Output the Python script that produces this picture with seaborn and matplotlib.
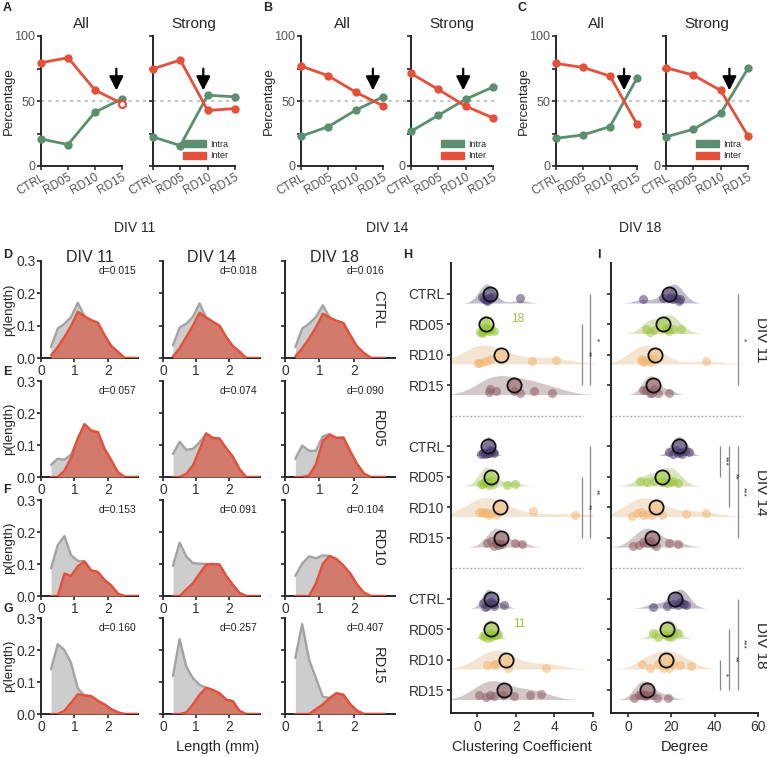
import numpy as np
import pandas as pd
import seaborn as sns
from matplotlib import pyplot as plt
from matplotlib.colors import to_rgba
from matplotlib.patches import Patch

sns.set_theme(style="ticks")
plt.rcParams["font.family"] = ["Liberation Sans", "DejaVu Sans"]
plt.rcParams["axes.linewidth"] = 1.4

W, H = 767, 757
GREEN = "#5b8f70"
RED = "#e4503a"
TICKC = "#555555"

# ---------------- data: top panels (percentage intra / inter) ----------------
conds = ["CTRL", "RD05", "RD10", "RD15"]

A_all_intra = [20.8, 16.5, 41.4, 51.7]
A_all_inter = [79.4, 83.3, 58.4, 48.0]
A_str_intra = [22.4, 15.7, 54.5, 53.2]
A_str_inter = [74.8, 81.5, 42.7, 44.2]
B_all_intra = [22.9, 30.3, 42.9, 53.2]
B_all_inter = [76.9, 69.4, 56.8, 46.3]
B_str_intra = [26.7, 39.0, 51.4, 60.7]
B_str_inter = [71.2, 58.9, 46.0, 37.0]
C_all_intra = [21.3, 23.9, 30.3, 67.6]
C_all_inter = [78.9, 75.8, 69.2, 32.1]
C_str_intra = [22.4, 28.3, 40.4, 75.1]
C_str_inter = [75.6, 69.9, 58.1, 23.1]

# ---------------- data: length distributions ----------------
bins = [0.3, 0.5, 0.7, 0.9, 1.1, 1.3, 1.5, 1.7, 1.9, 2.1, 2.3, 2.5, 2.7, 2.9]

ctrl_red_11 = [0.008, 0.034, 0.065, 0.100, 0.143, 0.129, 0.117, 0.109, 0.070, 0.037, 0.019, 0, 0, 0]
ctrl_gry_11 = [0.034, 0.091, 0.106, 0.127, 0.171, 0.129, 0.117, 0.109, 0.070, 0.037, 0.019, 0, 0, 0]
ctrl_red_14 = [0.005, 0.030, 0.065, 0.100, 0.140, 0.125, 0.112, 0.100, 0.065, 0.037, 0.020, 0, 0, 0]
ctrl_gry_14 = [0.039, 0.094, 0.106, 0.127, 0.169, 0.125, 0.112, 0.100, 0.065, 0.037, 0.020, 0, 0, 0]
ctrl_red_18 = [0.005, 0.030, 0.060, 0.095, 0.137, 0.125, 0.115, 0.108, 0.070, 0.035, 0.015, 0, 0, 0]
ctrl_gry_18 = [0.034, 0.091, 0.106, 0.127, 0.163, 0.125, 0.115, 0.108, 0.070, 0.035, 0.015, 0, 0, 0]

rd05_red_11 = [0, 0, 0.020, 0.060, 0.120, 0.165, 0.145, 0.140, 0.088, 0.052, 0.015, 0, 0, 0]
rd05_gry_11 = [0.038, 0.057, 0.054, 0.070, 0.120, 0.165, 0.145, 0.140, 0.088, 0.052, 0.015, 0, 0, 0]
rd05_red_14 = [0, 0, 0.010, 0.036, 0.086, 0.136, 0.122, 0.120, 0.090, 0.064, 0.025, 0, 0, 0]
rd05_gry_14 = [0.072, 0.110, 0.085, 0.088, 0.108, 0.136, 0.122, 0.120, 0.090, 0.064, 0.025, 0, 0, 0]
rd05_red_18 = [0, 0, 0.005, 0.040, 0.113, 0.132, 0.122, 0.123, 0.080, 0.040, 0.010, 0, 0, 0]
rd05_gry_18 = [0.057, 0.098, 0.082, 0.082, 0.127, 0.134, 0.122, 0.123, 0.080, 0.040, 0.010, 0, 0, 0]

rd10_red_11 = [0, 0, 0.070, 0.063, 0.093, 0.108, 0.080, 0.075, 0.050, 0.033, 0.007, 0, 0, 0]
rd10_gry_11 = [0.086, 0.159, 0.187, 0.127, 0.110, 0.108, 0.080, 0.075, 0.050, 0.033, 0.007, 0, 0, 0]
rd10_red_14 = [0, 0, 0.020, 0.040, 0.070, 0.098, 0.100, 0.098, 0.063, 0.035, 0.010, 0, 0, 0]
rd10_gry_14 = [0.094, 0.167, 0.124, 0.103, 0.101, 0.100, 0.100, 0.098, 0.063, 0.035, 0.010, 0, 0, 0]
rd10_red_18 = [0, 0, 0, 0.040, 0.101, 0.125, 0.115, 0.095, 0.070, 0.035, 0.010, 0, 0, 0]
rd10_gry_18 = [0.063, 0.101, 0.124, 0.118, 0.127, 0.125, 0.115, 0.095, 0.070, 0.035, 0.010, 0, 0, 0]

rd15_red_11 = [0, 0, 0.010, 0.035, 0.062, 0.058, 0.056, 0.041, 0.030, 0.015, 0.005, 0, 0, 0]
rd15_gry_11 = [0.140, 0.218, 0.200, 0.159, 0.080, 0.058, 0.056, 0.041, 0.030, 0.015, 0.005, 0, 0, 0]
rd15_red_14 = [0, 0, 0.005, 0.030, 0.060, 0.082, 0.075, 0.065, 0.045, 0.040, 0.010, 0, 0, 0]
rd15_gry_14 = [0.119, 0.234, 0.148, 0.112, 0.091, 0.082, 0.075, 0.065, 0.045, 0.040, 0.010, 0, 0, 0]
rd15_red_18 = [0, 0, 0, 0.015, 0.030, 0.050, 0.065, 0.060, 0.030, 0.010, 0, 0, 0, 0]
rd15_gry_18 = [0.175, 0.281, 0.170, 0.112, 0.054, 0.050, 0.065, 0.060, 0.030, 0.010, 0, 0, 0, 0]

d_ctrl = [0.015, 0.018, 0.016]
d_rd05 = [0.057, 0.074, 0.090]
d_rd10 = [0.153, 0.091, 0.104]
d_rd15 = [0.160, 0.257, 0.407]

# ---------------- data: clustering coefficient & degree ----------------
divs = ["DIV 11", "DIV 14", "DIV 18"]

cc_11_ctrl = [0.25, 0.35, 0.45, 0.5, 0.6, 0.65, 0.75, 0.5, 2.2]
cc_11_rd05 = [0.15, 0.25, 0.3, 0.35, 0.4, 0.45, 0.5, 0.55, 0.6, 0.7, 0.85, 0.4]
cc_11_rd10 = [0.05, 0.1, 0.3, 0.5, 0.7, 2.85, 4.1]
cc_11_rd15 = [0.6, 0.65, 1.0, 1.9, 2.2, 2.95, 3.9]
cc_14_ctrl = [0.2, 0.3, 0.4, 0.5, 0.55, 0.6, 0.65, 0.7, 0.8, 0.9]
cc_14_rd05 = [0.2, 0.3, 0.4, 0.45, 0.5, 0.6, 0.7, 0.8, 1.55, 1.95]
cc_14_rd10 = [0.1, 0.25, 0.3, 0.4, 0.5, 0.6, 0.7, 1.0, 2.9, 5.05]
cc_14_rd15 = [0.5, 0.7, 0.9, 1.0, 1.1, 1.2, 1.3, 1.95, 2.35]
cc_18_ctrl = [0.3, 0.4, 0.5, 0.6, 0.7, 0.8, 0.9, 1.4]
cc_18_rd05 = [0.3, 0.4, 0.5, 0.6, 0.65, 0.7, 0.8, 0.9, 1.0, 1.1]
cc_18_rd10 = [0.5, 0.85, 1.0, 1.6, 3.55]
cc_18_rd15 = [0.1, 0.45, 0.65, 0.85, 1.35, 1.9, 2.75, 3.3]

deg_11_ctrl = [6.8, 16, 19, 20, 21, 22, 23.5, 24]
deg_11_rd05 = [8.5, 10, 12, 17.5, 18, 19, 21, 24.5]
deg_11_rd10 = [6, 6.5, 7.5, 9, 10.5, 11.5, 36]
deg_11_rd15 = [7, 8.5, 10, 11, 12, 14, 19]
deg_14_ctrl = [19, 21, 22, 23, 24, 25, 26.5, 28]
deg_14_rd05 = [5.5, 9, 12, 16, 18, 19.5, 21, 23]
deg_14_rd10 = [2, 4, 6, 7, 9, 11, 15.5, 27, 36]
deg_14_rd15 = [2.5, 5, 7, 9, 10, 11.5, 13, 19, 23]
deg_18_ctrl = [11.5, 18, 21, 23, 24, 25, 26, 27]
deg_18_rd05 = [11.5, 14, 17, 18, 19, 20, 21, 23]
deg_18_rd10 = [6.5, 10, 14, 16, 19, 21, 24, 29]
deg_18_rd15 = [3, 5, 6, 7, 8, 9, 11, 13.5, 18.5]

sig_cc = [("DIV 11", "CTRL", "RD15", 5.85, "*"), ("DIV 11", "RD05", "RD15", 5.44, "**"),
          ("DIV 14", "CTRL", "RD15", 5.85, "**"), ("DIV 14", "RD05", "RD15", 5.44, "**")]
sig_deg = [("DIV 11", "CTRL", "RD15", 50.7, "*"),
           ("DIV 14", "CTRL", "RD05", 42.4, "***"), ("DIV 14", "CTRL", "RD10", 46.6, "**"),
           ("DIV 14", "CTRL", "RD15", 50.7, "***"),
           ("DIV 18", "CTRL", "RD15", 50.7, "***"), ("DIV 18", "RD05", "RD15", 46.6, "**"),
           ("DIV 18", "RD10", "RD15", 42.4, "*")]

PAL = {"CTRL": "#4b3b6e", "RD05": "#9cc43a", "RD10": "#f2b673", "RD15": "#8c5a63"}


def box(l, t, r, b):
    return [l / W, 1 - b / H, (r - l) / W, (b - t) / H]


fig = plt.figure(figsize=(W / 100, H / 100), dpi=100)

# ---------------- A, B, C ----------------
top = [
    ("A", [(41, 122), (153, 235)], [(A_all_intra, A_all_inter, 2.79), (A_str_intra, A_str_inter, 1.84)]),
    ("B", [(301, 383), (411, 493)], [(B_all_intra, B_all_inter, 2.63), (B_str_intra, B_str_inter, 1.91)]),
    ("C", [(556, 637), (666, 748)], [(C_all_intra, C_all_inter, 2.52), (C_str_intra, C_str_inter, 2.32)]),
]
for letter, spans, series in top:
    fig.text((spans[0][0] - 38) / W, 1 - 8 / H, letter, fontsize=9, fontweight="bold", va="center")
    for k, ((l, r), (intra, inter, ax_x)) in enumerate(zip(spans, series)):
        ax = fig.add_axes(box(l, 36, r, 166))
        ext = 4.3 if k == 0 else 3.1
        ax.hlines(50, 0, ext, colors="#c4c4c4", linestyles=(0, (1.5, 2)), lw=1.5, clip_on=False, zorder=0)
        sns.lineplot(x=conds, y=intra, color=GREEN, lw=2, marker="o", markersize=6,
                     markeredgewidth=0, ax=ax, clip_on=False, zorder=3)
        sns.lineplot(x=conds, y=inter, color=RED, lw=2, marker="o", markersize=6,
                     markeredgewidth=0, ax=ax, clip_on=False, zorder=3)
        if letter == "A" and k == 0:
            ax.plot(3, inter[3], "o", mfc="white", mec=RED, mew=1.5, ms=5, clip_on=False, zorder=4)
        ax.annotate("", xy=(ax_x, 56), xytext=(ax_x, 77),
                    arrowprops=dict(arrowstyle="-|>,head_width=0.35,head_length=0.7", color="black", lw=1.6))
        ax.set_xlim(0, 3)
        ax.set_ylim(0, 100)
        ax.set_yticks([0, 25, 50, 75, 100])
        if k == 0:
            ax.set_yticklabels(["0", "", "50", "", "100"])
            ax.set_ylabel("Percentage", fontsize=9.5, labelpad=0)
        else:
            ax.set_yticklabels(["0" if letter != "A" else "", "", "", "", ""])
            ax.legend(handles=[Patch(color=GREEN, label="Intra"), Patch(color=RED, label="Inter")],
                      loc="lower right", bbox_to_anchor=(1.02, -0.02), fontsize=6.5, frameon=False,
                      handlelength=2.6, handleheight=0.8, labelspacing=0.3, handletextpad=0.5)
        ax.set_title(["All", "Strong"][k], fontsize=11, pad=6)
        ax.set_xlabel("")
        ax.tick_params(axis="x", labelrotation=30, labelsize=8.5, colors="#333333", labelcolor=TICKC,
                       length=3, width=1.2, pad=1)
        for t in ax.get_xticklabels():
            t.set_ha("right")
            t.set_rotation_mode("anchor")
        ax.tick_params(axis="y", labelsize=9, labelcolor=TICKC, length=3, width=1.2, pad=1)
        sns.despine(ax=ax)

for x, lab in [(135, "DIV 11"), (387, "DIV 14"), (640, "DIV 18")]:
    fig.text(x / W, 1 - 228 / H, lab, fontsize=10, ha="center", va="center")

# ---------------- D - G ----------------
dist = {
    "CTRL": [(ctrl_gry_11, ctrl_red_11), (ctrl_gry_14, ctrl_red_14), (ctrl_gry_18, ctrl_red_18)],
    "RD05": [(rd05_gry_11, rd05_red_11), (rd05_gry_14, rd05_red_14), (rd05_gry_18, rd05_red_18)],
    "RD10": [(rd10_gry_11, rd10_red_11), (rd10_gry_14, rd10_red_14), (rd10_gry_18, rd10_red_18)],
    "RD15": [(rd15_gry_11, rd15_red_11), (rd15_gry_14, rd15_red_14), (rd15_gry_18, rd15_red_18)],
}
dvals = {"CTRL": d_ctrl, "RD05": d_rd05, "RD10": d_rd10, "RD15": d_rd15}
rows = [("D", "CTRL", 261, 358, 255), ("E", "RD05", 381, 477, 372),
        ("F", "RD10", 500, 596, 490), ("G", "RD15", 618, 714, 609)]
cols = [(41, 138, 2.9), (163, 260, 2.92), (285, 395, 3.2)]

for letter, cond, t, b, ly in rows:
    fig.text(3 / W, 1 - ly / H, letter, fontsize=9, fontweight="bold", va="center")
    for c, (l, r, xmax) in enumerate(cols):
        ax = fig.add_axes(box(l, t, r, b))
        gray, red = dist[cond][c]
        ax.fill_between(bins, gray, color="#cdcdcd", lw=0, zorder=1)
        sns.lineplot(x=bins, y=gray, color="#a3a3a3", lw=1.7, ax=ax, zorder=2)
        ax.fill_between(bins, red, color="#d27a6b", lw=0, zorder=3)
        sns.lineplot(x=bins, y=red, color=RED, lw=1.7, ax=ax, zorder=4)
        ax.set_xlim(0, xmax)
        ax.set_ylim(0, 0.3)
        ax.set_xticks([0, 1, 2])
        ax.set_yticks([0, 0.1, 0.2, 0.3])
        if c == 0:
            ax.set_yticklabels(["0.0", "0.1", "0.2", "0.3"])
            ax.set_ylabel("p(length)", fontsize=9.5, labelpad=1)
        else:
            ax.set_yticklabels([])
        ax.tick_params(labelsize=10, labelcolor="#333333", length=3, width=1.2, pad=1)
        ax.text(2.85 if c < 2 else 2.9, 0.27, f"d={dvals[cond][c]:.3f}", fontsize=7.5,
                ha="right", va="center", color="#222222")
        sns.despine(ax=ax)
        if letter == "D":
            fig.text(((l + r) / 2 - (0 if c < 2 else 6)) / W, 1 - 258 / H, divs[c], fontsize=11.5,
                     ha="center", va="center")
    fig.text(378 / W, 1 - (t + b) / 2 / H, cond, rotation=270, fontsize=10.5, ha="center", va="center")
fig.text(218 / W, 1 - 747 / H, "Length (mm)", fontsize=10.5, ha="center", va="center")

# ---------------- H, I ----------------
cc = {("DIV 11", "CTRL"): cc_11_ctrl, ("DIV 11", "RD05"): cc_11_rd05, ("DIV 11", "RD10"): cc_11_rd10,
      ("DIV 11", "RD15"): cc_11_rd15, ("DIV 14", "CTRL"): cc_14_ctrl, ("DIV 14", "RD05"): cc_14_rd05,
      ("DIV 14", "RD10"): cc_14_rd10, ("DIV 14", "RD15"): cc_14_rd15, ("DIV 18", "CTRL"): cc_18_ctrl,
      ("DIV 18", "RD05"): cc_18_rd05, ("DIV 18", "RD10"): cc_18_rd10, ("DIV 18", "RD15"): cc_18_rd15}
deg = {("DIV 11", "CTRL"): deg_11_ctrl, ("DIV 11", "RD05"): deg_11_rd05, ("DIV 11", "RD10"): deg_11_rd10,
       ("DIV 11", "RD15"): deg_11_rd15, ("DIV 14", "CTRL"): deg_14_ctrl, ("DIV 14", "RD05"): deg_14_rd05,
       ("DIV 14", "RD10"): deg_14_rd10, ("DIV 14", "RD15"): deg_14_rd15, ("DIV 18", "CTRL"): deg_18_ctrl,
       ("DIV 18", "RD05"): deg_18_rd05, ("DIV 18", "RD10"): deg_18_rd10, ("DIV 18", "RD15"): deg_18_rd15}


def slot(div, cond):
    return divs.index(div) * 5 + conds.index(cond)


def rain(ax, data, xlim, xticks, sig, sep_end, show_labels):
    for (div, cond), vals in data.items():
        s = slot(div, cond)
        df = pd.DataFrame({"v": vals, "s": float(s)})
        n0 = len(ax.collections)
        sns.violinplot(data=df, x="v", y="s", orient="h", native_scale=True, split=True, inner=None,
                       color=PAL[cond], linewidth=0, width=0.62, cut=2.5, ax=ax)
        for coll in ax.collections[n0:]:
            coll.set_alpha(0.35)
        df["r"] = s + 0.2
        sns.stripplot(data=df, x="v", y="r", orient="h", native_scale=True, color=PAL[cond],
                      alpha=0.55, size=6.5, jitter=0.08, linewidth=0, ax=ax, zorder=3)
        ax.scatter([np.mean(vals)], [s], s=105, facecolor=to_rgba(PAL[cond], 0.55), edgecolor="#111111",
                   linewidth=1.3, zorder=6)
    for y in [4, 9]:
        ax.hlines(y, xlim[0], sep_end, colors="#aaaaaa", linestyles=(0, (1.5, 1.5)), lw=0.9)
    for div, c1, c2, x, lab in sig:
        y1, y2 = slot(div, c1), slot(div, c2)
        ax.vlines(x, y1, y2, colors="#888888", lw=0.9, clip_on=False)
        ax.annotate(lab, xy=(x, (y1 + y2) / 2), xytext=(4, 0), textcoords="offset points",
                    rotation=270, fontsize=6, ha="center", va="center", annotation_clip=False)
    ticks = [slot(d, c) for d in divs for c in conds]
    ax.set_yticks(ticks)
    ax.set_yticklabels([c for d in divs for c in conds] if show_labels else [])
    ax.set_ylim(13.75, -1.0)
    ax.set_xlim(*xlim)
    ax.set_xticks(xticks)
    ax.set_ylabel("")
    ax.tick_params(labelsize=10, labelcolor="#333333", length=3, width=1.2, pad=2)
    sns.despine(ax=ax)


axH = fig.add_axes(box(451, 263, 593, 713))
rain(axH, cc, (-1.35, 6.0), [0, 2, 4, 6], sig_cc, 5.5, True)
axH.set_xlabel("Clustering Coefficient", fontsize=10.5, labelpad=4)
axH.text(1.76, 0.82, "18", color=PAL["RD05"], fontsize=8.5, ha="left", va="center")
axH.text(1.87, 10.84, "11", color=PAL["RD05"], fontsize=8.5, ha="left", va="center")

axI = fig.add_axes(box(611, 263, 758, 713))
rain(axI, deg, (-7.8, 60), [0, 20, 40, 60], sig_deg, 53, False)
axI.set_xlabel("Degree", fontsize=10.5, labelpad=4)

fig.text(403 / W, 1 - 255 / H, "H", fontsize=9, fontweight="bold", va="center")
fig.text(597 / W, 1 - 255 / H, "I", fontsize=9, fontweight="bold", va="center")
for y, lab in [(340, "DIV 11"), (492, "DIV 14"), (645, "DIV 18")]:
    fig.text(761 / W, 1 - y / H, lab, rotation=270, fontsize=11, ha="center", va="center")

fig.savefig("out.png", dpi=100)
